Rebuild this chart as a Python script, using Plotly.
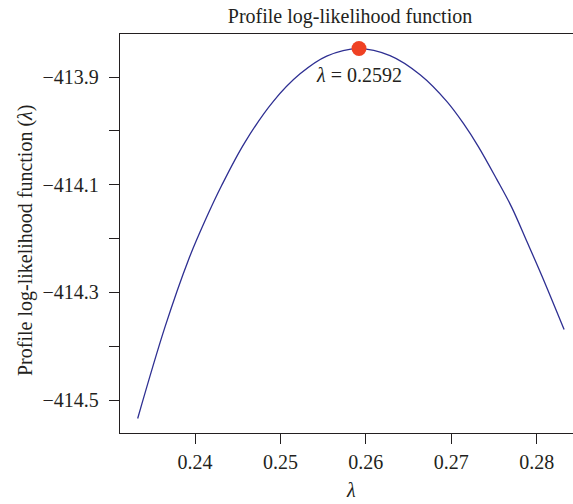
import plotly.graph_objects as go

# Data
lam = [0.23329, 0.23649, 0.23922, 0.24117, 0.24313, 0.24577, 0.24917, 0.25230,
       0.25542, 0.25912, 0.26283, 0.26639, 0.26947, 0.27142, 0.27317, 0.27533,
       0.27708, 0.27884, 0.28060, 0.28321]
loglik = [-414.534, -414.364, -414.240, -414.167, -414.101, -414.023, -413.945, -413.894,
          -413.861, -413.847, -413.860, -413.896, -413.945, -413.986, -414.029, -414.090,
          -414.142, -414.205, -414.269, -414.369]

peak_lam = 0.2592
peak_ll = -413.847

x_tickvals = [0.24, 0.25, 0.26, 0.27, 0.28]
x_ticktext = ["0.24", "0.25", "0.26", "0.27", "0.28"]
y_tickvals = [-414.5, -414.4, -414.3, -414.2, -414.1, -414.0, -413.9]
y_ticktext = ["\u2212414.5", "", "\u2212414.3", "", "\u2212414.1", "", "\u2212413.9"]

FONT = "Liberation Serif, 'Times New Roman', 'DejaVu Serif', serif"
INK = "#231f20"

fig = go.Figure()
fig.add_trace(go.Scatter(
    x=lam, y=loglik, mode="lines",
    line=dict(color="#2e2f92", width=1.3, shape="spline", smoothing=1.0),
    showlegend=False, hoverinfo="skip"))
fig.add_trace(go.Scatter(
    x=[peak_lam], y=[peak_ll], mode="markers",
    marker=dict(color="#ef4123", size=15, line=dict(width=0)),
    showlegend=False))

fig.add_annotation(x=peak_lam, y=peak_ll, xref="x", yref="y",
                   text=f"<i>λ</i> = {peak_lam}", showarrow=False,
                   yshift=-26, font=dict(family=FONT, size=20, color=INK))
# Axis titles
fig.add_annotation(x=(25 - 120) / 453, y=(433 - 241) / 399, xref="paper", yref="paper",
                   text="Profile log-likelihood function (<i>λ</i>)", textangle=-90,
                   showarrow=False, xanchor="center", yanchor="middle",
                   font=dict(family=FONT, size=20, color=INK))
fig.add_annotation(x=(351 - 120) / 453, y=(433 - 490) / 399, xref="paper", yref="paper",
                   text="<i>λ</i>", showarrow=False, xanchor="center", yanchor="middle",
                   font=dict(family=FONT, size=20, color=INK))

fig.update_layout(
    width=573, height=504,
    margin=dict(l=120, r=0, t=34, b=71),
    paper_bgcolor="white", plot_bgcolor="white",
    font=dict(family=FONT, size=20, color=INK),
    title=dict(text="Profile log-likelihood function", x=(350 - 120) / 453, xref="paper",
               xanchor="center", y=1 - 16 / 504, yanchor="middle",
               font=dict(family=FONT, size=20, color=INK)),
    xaxis=dict(range=[0.23122, 0.28425], tickvals=x_tickvals, ticktext=x_ticktext,
               showline=True, mirror=True, linecolor=INK, linewidth=1.3,
               ticks="outside", ticklen=10, tickwidth=1.3, tickcolor=INK,
               showgrid=False, zeroline=False, ticklabelstandoff=1,
               tickfont=dict(family=FONT, size=20, color=INK)),
    yaxis=dict(range=[-414.561, -413.820], tickvals=y_tickvals, ticktext=y_ticktext,
               showline=True, mirror=False, linecolor=INK, linewidth=1.3,
               ticks="outside", ticklen=10, tickwidth=1.3, tickcolor=INK,
               showgrid=False, zeroline=False, ticklabelstandoff=6,
               tickfont=dict(family=FONT, size=20, color=INK)),
)

fig.write_html("out.html")
